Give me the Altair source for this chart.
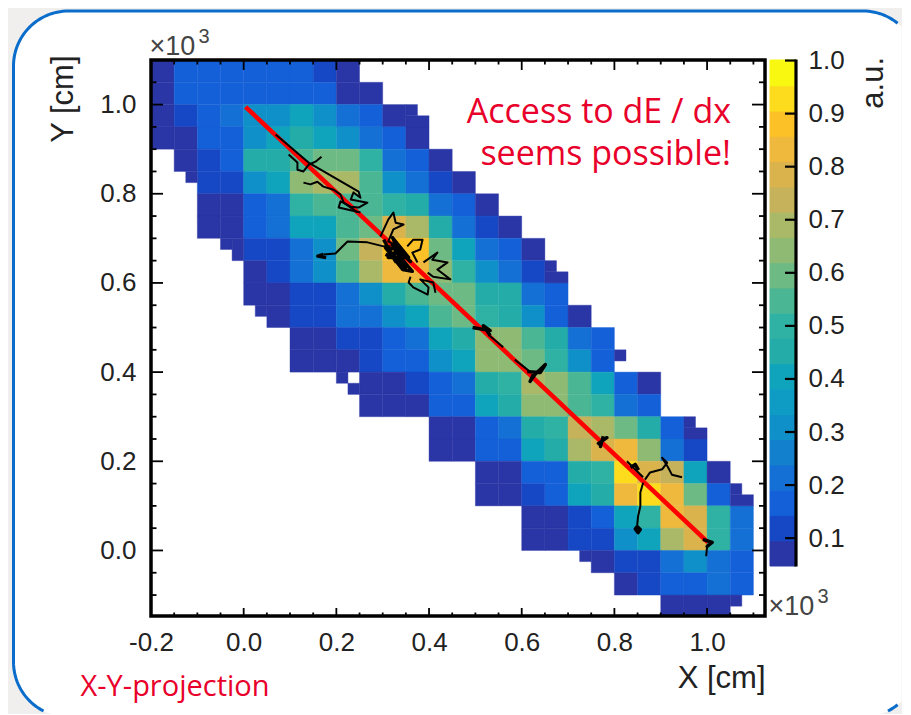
import math
import altair as alt
import pandas as pd

# ---------- heat map: colour band (1..20) of each 0.05 x 0.05 bin, top row first ----------
X_FIRST, Y_TOP, BIN = -0.2, 1.1, 0.05
rows = [
    [1,3,3,3,3,3,3,2,1],
    [1,3,3,3,3,3,3,3,1,1],
    [1,2,3,4,6,6,8,6,4,3,1],
    [1,1,3,3,6,8,9,8,6,4,3,1],
    [0,1,2,3,9,9,11,12,12,10,4,3,1],
    [0,0,2,2,6,8,13,14,14,11,6,4,2,1],
    [0,0,1,1,3,4,10,11,11,11,10,9,4,3,1],
    [0,0,1,1,3,4,8,8,11,12,16,14,9,4,2,1],
    [0,0,0,0,2,2,4,6,12,15,18,18,12,8,4,3,1],
    [0,0,0,0,1,2,4,6,11,14,17,17,13,10,6,4,2],
    [0,0,0,0,1,1,2,2,4,6,9,11,12,12,9,9,4,3],
    [0,0,0,0,0,1,2,2,4,4,6,8,11,12,10,9,6,3,1],
    [0,0,0,0,0,0,1,1,2,2,3,4,8,9,13,13,11,9,4,3],
    [0,0,0,0,0,0,1,1,1,2,3,3,6,8,13,13,12,10,6,3],
    [0,0,0,0,0,0,0,0,0,1,1,2,3,4,9,10,14,13,11,8,3,1],
    [0,0,0,0,0,0,0,0,0,1,1,1,3,3,8,9,13,13,11,10,4,3],
    [0,0,0,0,0,0,0,0,0,0,0,0,1,1,3,4,9,10,15,14,12,9,3],
    [0,0,0,0,0,0,0,0,0,0,0,0,1,1,3,3,8,9,14,16,17,13,4,2],
    [0,0,0,0,0,0,0,0,0,0,0,0,0,0,1,1,3,3,9,10,19,16,15,8,1],
    [0,0,0,0,0,0,0,0,0,0,0,0,0,0,1,1,2,3,8,9,17,19,17,12,3],
    [0,0,0,0,0,0,0,0,0,0,0,0,0,0,0,0,1,1,2,3,8,10,17,16,10,4],
    [0,0,0,0,0,0,0,0,0,0,0,0,0,0,0,0,1,1,2,2,6,8,14,16,10,4],
    [0,0,0,0,0,0,0,0,0,0,0,0,0,0,0,0,0,0,0,1,2,2,4,6,4,3],
    [0,0,0,0,0,0,0,0,0,0,0,0,0,0,0,0,0,0,0,0,1,2,3,3,4,3],
    [0,0,0,0,0,0,0,0,0,0,0,0,0,0,0,0,0,0,0,0,0,0,1,1,1],
]
# half-size bins on the outline: x0, x1, y0, y1, band
edge_bins = [
    (-0.125, -0.1, 0.825, 0.85, 1), (-0.05, -0.025, 0.675, 0.7, 1), (-0.025, 0.0, 0.65, 0.7, 1),
    (0.025, 0.05, 0.525, 0.55, 1), (0.35, 0.375, 0.975, 1.0, 1), (0.35, 0.4, 0.95, 0.975, 1),
    (0.65, 0.675, 0.625, 0.65, 1), (0.65, 0.7, 0.6, 0.625, 1), (0.8, 0.825, 0.425, 0.45, 1),
    (0.95, 0.975, 0.275, 0.3, 1), (0.95, 1.0, 0.25, 0.275, 1), (1.05, 1.075, 0.125, 0.15, 1),
    (1.05, 1.1, 0.1, 0.125, 1), (0.725, 0.75, -0.025, 0.0, 1), (1.05, 1.075, -0.125, -0.1, 1),
    (0.2, 0.225, 0.375, 0.4, 1), (0.225, 0.25, 0.35, 0.375, 1),
]
palette = ["#2A36A6", "#1648C6", "#1460D8", "#1470D4", "#1280CC", "#1090C8", "#0E9CC4", "#10A4BC",
           "#24ACA8", "#2FB2A4", "#4AB694", "#6EBA84", "#8FBA74", "#A9B968", "#C6B25A", "#DAB34C",
           "#EFB93E", "#FBC126", "#FCDC1C", "#F8F810"]
band_edges = [0.0475, 0.0951, 0.1428, 0.1904, 0.2380, 0.2856, 0.3332, 0.3809, 0.4285, 0.4761, 0.5238,
              0.5714, 0.6190, 0.6666, 0.7143, 0.7619, 0.8095, 0.8571, 0.9048, 0.9524, 1.001]

# ---------- particle tracks (x, y in units of 10^3 cm) ----------
red_x, red_y = [0.004, 1.002], [0.995, 0.018]
thin_tracks = [
    ([0.097,0.116,0.116,0.129,0.140,0.155,0.168], [0.888,0.870,0.854,0.850,0.865,0.872,0.883]),
    ([0.069,0.140,0.248,0.252,0.237,0.231,0.267,0.248,0.231,0.209,0.205,0.252],
     [0.933,0.870,0.805,0.791,0.803,0.787,0.780,0.769,0.771,0.783,0.769,0.758]),
    ([0.129,0.144,0.159,0.172,0.194,0.209,0.216,0.246], [0.825,0.821,0.827,0.816,0.809,0.798,0.780,0.758]),
    ([0.172,0.198,0.224,0.267,0.302,0.317], [0.664,0.666,0.693,0.691,0.682,0.682]),
    ([0.295,0.312,0.323,0.328,0.345,0.323,0.312,0.332], [0.704,0.742,0.758,0.735,0.731,0.720,0.693,0.682]),
    ([0.353,0.366,0.386,0.381,0.364,0.375], [0.682,0.697,0.697,0.675,0.668,0.646]),
    ([0.388,0.418,0.407,0.440,0.418,0.446,0.409,0.397], [0.646,0.668,0.652,0.646,0.630,0.608,0.614,0.623]),
    ([0.360,0.356,0.366,0.397,0.399,0.381,0.409,0.414], [0.614,0.601,0.590,0.574,0.590,0.608,0.601,0.578]),
    ([0.528,0.560], [0.484,0.456]),
    ([0.585,0.618], [0.428,0.401]),
    ([0.866,0.877,0.903,0.914,0.903,0.916,0.924,0.946], [0.159,0.175,0.182,0.197,0.208,0.186,0.170,0.164]),
    ([0.862,0.856,0.856,0.851,0.849], [0.152,0.130,0.099,0.076,0.054]),
    ([1.0,0.998], [0.009,-0.013]),
    ([0.827,0.862], [0.200,0.164]),
]
thick_tracks = [
    ([0.302,0.328,0.312,0.349,0.321,0.360,0.334,0.306,0.343,0.364,0.328,0.312,0.356,0.321,0.343,0.306],
     [0.697,0.648,0.675,0.634,0.686,0.648,0.675,0.679,0.630,0.626,0.670,0.657,0.657,0.702,0.648,0.664]),
    ([0.494,0.532,0.517,0.532], [0.500,0.493,0.504,0.482]),
    ([0.612,0.640,0.651,0.629,0.618,0.625], [0.401,0.399,0.417,0.395,0.379,0.395]),
    ([0.763,0.784,0.774,0.770,0.776], [0.238,0.253,0.249,0.233,0.256]),
    ([0.849,0.856,0.851,0.845,0.849], [0.054,0.047,0.040,0.048,0.054]),
    ([0.991,1.011,1.0,1.013], [0.025,0.018,0.009,0.020]),
    ([0.172,0.160,0.178], [0.664,0.660,0.657]),
    ([0.835,0.845,0.852], [0.186,0.193,0.180]),
]

x_major_ticks = [0.0, 0.2, 0.4, 0.6, 0.8, 1.0]
y_major_ticks = [0.0, 0.2, 0.4, 0.6, 0.8, 1.0]
x_minor_ticks = [-0.15,-0.1,-0.05,0.05,0.1,0.15,0.25,0.3,0.35,0.45,0.5,0.55,0.65,0.7,0.75,0.85,0.9,0.95,1.05,1.1]
y_minor_ticks = [-0.1,-0.05,0.05,0.1,0.15,0.25,0.3,0.35,0.45,0.5,0.55,0.65,0.7,0.75,0.85,0.9,0.95,1.05]
x_labels = [-0.2, 0.0, 0.2, 0.4, 0.6, 0.8, 1.0]
bar_labels = [0.1, 0.2, 0.3, 0.4, 0.5, 0.6, 0.7, 0.8, 0.9, 1.0]

# ---------- tables ----------
cells = []
for r, row in enumerate(rows):
    top = Y_TOP - r * BIN
    for c, band in enumerate(row):
        if band:
            left = X_FIRST + c * BIN
            cells.append((left, left + BIN, top - BIN, top, band))
cells += edge_bins
cells = pd.DataFrame(cells, columns=["x0", "x1", "y0", "y1", "band"])

def track_table(tracks):
    out = []
    for k, (xs_, ys_) in enumerate(tracks):
        for i, (a, b) in enumerate(zip(xs_, ys_)):
            out.append({"track": k, "i": i, "x": a, "y": b})
    return pd.DataFrame(out)

W, H = 614, 556
BW, BH = 26, 506
DARK = "#222222"
FONT = "Liberation Sans"
RED = "#E8002A"
BLUE = "#0A6CCB"
X_DOM, Y_DOM = [-0.2, 1.125], [-0.147, 1.1]
xs = alt.Scale(domain=X_DOM, nice=False, zero=False)
ys = alt.Scale(domain=Y_DOM, nice=False, zero=False)
cs = alt.Scale(domain=list(range(1, 21)), range=palette)
one = pd.DataFrame({"a": [0]})

x_axis = alt.Axis(
    values=x_labels, tickSize=0, domain=False, grid=False, labelPadding=13, zindex=1,
    labelExpr="replace(format(datum.value, '.1f'), '\u2212', '-')",
    labelFontSize=26, labelFont=FONT, labelColor=DARK, title="X [cm]", titleFont=FONT,
    titleFontSize=31, titleFontWeight="normal", titleColor=DARK, titleAlign="right",
    titleAnchor="end", titleBaseline="alphabetic", titleX=614, titleY=71, labelFlush=False)
y_axis = alt.Axis(
    values=y_major_ticks, format=".1f", tickSize=0, domain=False, grid=False, labelPadding=15, zindex=1,
    labelFontSize=26, labelFont=FONT, labelColor=DARK, title="Y [cm]", titleFont=FONT,
    titleFontSize=31, titleFontWeight="normal", titleColor=DARK, titleAlign="right",
    titleAnchor="end", titleBaseline="alphabetic", titleX=-78.5, titleY=-5, labelFlush=False)

def px_rect(x, x2, y, y2, **kw):
    return alt.Chart(one).mark_rect(**kw).encode(
        x=alt.value(x), x2=alt.value(x2), y=alt.value(y), y2=alt.value(y2))

def label(text, x, y, **kw):
    kw.setdefault("baseline", "alphabetic")
    return alt.Chart(pd.DataFrame({"t": [text]})).mark_text(**kw).encode(
        text="t:N", x=alt.value(x), y=alt.value(y))

# ---------- the rounded card of the slide, cut off by the edges of the picture ----------
# screen pixels -> plot coordinates (panel origin is at screen 150.5, 60)
def dx(sx):
    return X_DOM[0] + (sx - 150.5) / W * (X_DOM[1] - X_DOM[0])
def dy(sy):
    return Y_DOM[1] - (sy - 60) / H * (Y_DOM[1] - Y_DOM[0])

C_L, C_T, RAD = 13.0, 11.0, 55.0
C_R, C_B = 917.5, 717.0
S_R, S_B = 901.0, 714.0
def corner_dy(sx):
    if sx < C_L + RAD:
        d = C_L + RAD - sx
    elif sx > C_R - RAD:
        d = sx - (C_R - RAD)
    else:
        return 0.0
    return RAD - math.sqrt(max(RAD * RAD - d * d, 0.0))

def sweep():
    out = [C_L + 0.0]
    out += [C_L + RAD * (1 - math.cos(math.radians(a))) for a in range(3, 91, 3)]
    out += [C_R - RAD + RAD * math.sin(math.radians(a)) for a in range(0, 62, 3)]
    return [x for x in out if x < S_R] + [S_R]

sx_all = sweep()
area_tbl = pd.DataFrame({
    "x": [dx(s) for s in sx_all],
    "top": [dy(C_T + corner_dy(s)) for s in sx_all],
    "bot": [dy(min(C_B - corner_dy(s), S_B)) for s in sx_all],
})
card_fill = alt.Chart(area_tbl).mark_area(color="white", opacity=1).encode(
    x=alt.X("x:Q", scale=xs, axis=x_axis, sort=None),
    y=alt.Y("top:Q", scale=ys, axis=y_axis), y2="bot:Q")

LINE_INSET = 2.5
edge_top = [(s, C_T + corner_dy(s)) for s in sx_all if s <= S_R - LINE_INSET]
edge_left = [(s, C_B - corner_dy(s)) for s in sx_all if s < C_L + RAD and C_B - corner_dy(s) < S_B - LINE_INSET]
edge_right = [(s, C_B - corner_dy(s)) for s in sx_all
              if C_R - RAD < s <= S_R - LINE_INSET and C_B - corner_dy(s) < S_B - LINE_INSET]
edge_rows = []
for k, pts in enumerate([list(reversed(edge_left)) + edge_top, edge_right]):
    for i, (a, b) in enumerate(pts):
        edge_rows.append({"track": k, "i": i, "x": dx(a), "y": dy(b)})
card_edge = alt.Chart(pd.DataFrame(edge_rows)).mark_line(color=BLUE, strokeWidth=3, strokeJoin="round").encode(
    x=alt.X("x:Q", scale=xs, axis=x_axis), y=alt.Y("y:Q", scale=ys, axis=y_axis),
    detail="track:N", order="i:Q")

page = px_rect(-142.5, S_R - 150.5, -52, S_B - 60, fill="#F0EFED", strokeWidth=0)

heat = alt.Chart(cells).mark_rect(clip=True, strokeWidth=0.4).encode(
    x=alt.X("x0:Q", scale=xs, axis=x_axis), x2="x1:Q",
    y=alt.Y("y0:Q", scale=ys, axis=y_axis), y2="y1:Q",
    color=alt.Color("band:O", scale=cs, legend=None),
    stroke=alt.Stroke("band:O", scale=cs, legend=None),
)

red = alt.Chart(pd.DataFrame({"x": red_x, "y": red_y})).mark_line(
    color="#FF0000", strokeWidth=4.5, strokeJoin="round").encode(
    x=alt.X("x:Q", scale=xs, axis=x_axis), y=alt.Y("y:Q", scale=ys, axis=y_axis))

def tracks(tbl, width):
    return alt.Chart(tbl).mark_line(color="black", strokeWidth=width, strokeJoin="round").encode(
        x=alt.X("x:Q", scale=xs, axis=x_axis), y=alt.Y("y:Q", scale=ys, axis=y_axis),
        detail="track:N", order="i:Q")

def xticks(vals, y0, y1):
    return alt.Chart(pd.DataFrame({"v": vals})).mark_rule(color="black", strokeWidth=1.8).encode(
        x=alt.X("v:Q", scale=xs, axis=x_axis), y=alt.value(y0), y2=alt.value(y1))

def yticks(vals, x0, x1):
    return alt.Chart(pd.DataFrame({"v": vals})).mark_rule(color="black", strokeWidth=1.8).encode(
        y=alt.Y("v:Q", scale=ys, axis=y_axis), x=alt.value(x0), x2=alt.value(x1))

frame = px_rect(0, W, 0, H, fillOpacity=0, stroke="black", strokeWidth=3.5)

notes = [
    label("Access to dE / dx\nseems possible!", 580, 63, font="Open Sans", fontSize=34, color=RED,
          align="right", lineBreak="\n", lineHeight=42),
    label("X-Y-projection", -70.5, 636, font="Open Sans", fontSize=29, color=RED, align="left"),
    label("×10", -1.5, -5, font=FONT, fontSize=27, color="#444444", align="left"),
    label("3", 47.5, -17, font=FONT, fontSize=20, color="#444444", align="left"),
    label("×10", 617.5, 555, font=FONT, fontSize=27, color="#444444", align="left"),
    label("3", 666.5, 543, font=FONT, fontSize=20, color="#444444", align="left"),
]

main = alt.layer(
    page, card_fill, card_edge, heat, red,
    tracks(track_table(thin_tracks), 2.0), tracks(track_table(thick_tracks), 3.4),
    xticks(x_major_ticks, H, H - 8), xticks(x_minor_ticks, H, H - 3.5),
    xticks(x_major_ticks, 0, 10), xticks(x_minor_ticks, 0, 4.5),
    yticks(y_major_ticks, 0, 12), yticks(y_minor_ticks, 0, 5.5),
    yticks(y_major_ticks, W, W - 13), yticks(y_minor_ticks, W, W - 6),
    frame, *notes,
).properties(width=W, height=H)

bar_tbl = pd.DataFrame({"lo": band_edges[:-1], "hi": band_edges[1:], "band": list(range(1, 21))})
bs = alt.Scale(domain=[0.0475, 1.001], nice=False, zero=False)
bar_axis = alt.Axis(
    orient="right", values=bar_labels, format=".1f", tickSize=0, domain=False, grid=False,
    labelPadding=12, labelFontSize=26, labelFont=FONT, labelColor=DARK, title=None, labelFlush=False)
bar_rect = alt.Chart(bar_tbl).mark_rect().encode(
    y=alt.Y("lo:Q", scale=bs, axis=bar_axis), y2="hi:Q", x=alt.value(0), x2=alt.value(BW),
    color=alt.Color("band:O", scale=cs, legend=None),
    stroke=alt.Stroke("band:O", scale=cs, legend=None),
)
bar_ticks = alt.Chart(pd.DataFrame({"v": bar_labels})).mark_rule(color="black", strokeWidth=2.2).encode(
    y=alt.Y("v:Q", scale=bs, axis=bar_axis), x=alt.value(BW - 11), x2=alt.value(BW))
bar_line = alt.Chart(one).mark_rule(color="black", strokeWidth=3.2).encode(
    x=alt.value(BW), y=alt.value(-0.5), y2=alt.value(BH + 0.5))
bar_title = label("a.u.", 112.5, -3, font=FONT, fontSize=31, color=DARK, align="right", angle=270)
bar = alt.layer(bar_rect, bar_ticks, bar_line, bar_title).properties(width=BW, height=BH)

chart = alt.hconcat(main, bar, spacing=5, bounds="flush", padding=0, background="#F0EFED").resolve_scale(
    color="shared", stroke="shared"
).configure_view(stroke=None)

chart.save("out.html", embed_options={"renderer": "svg", "actions": False})
